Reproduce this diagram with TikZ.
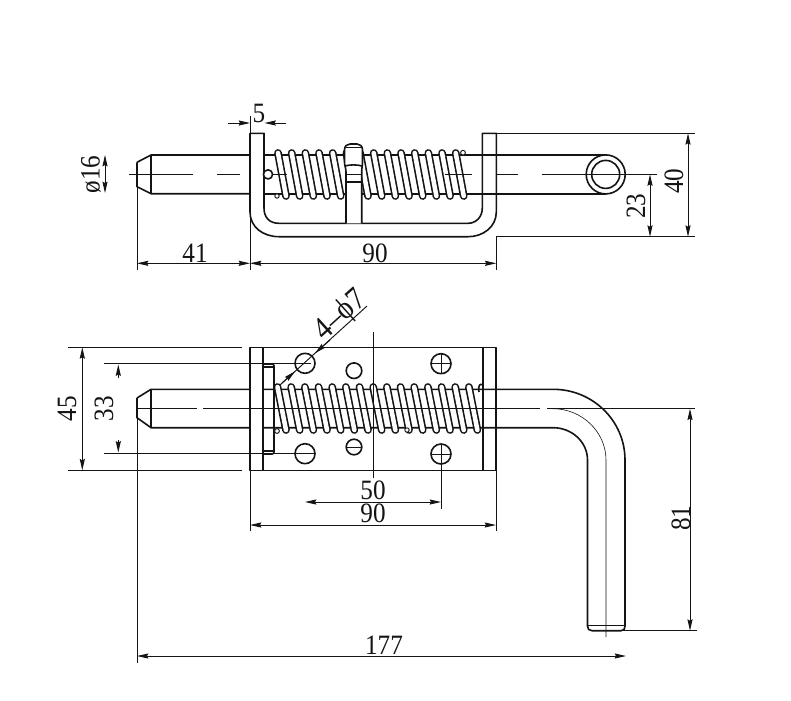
\documentclass[tikz,border=0pt]{standalone}
\usepackage{fontspec}
\setmainfont{Liberation Serif}
\newfontfamily\dimfont[FakeStretch=0.9]{Liberation Serif}
\usetikzlibrary{arrows.meta}
\definecolor{ink}{gray}{0.08}
\tikzset{
  x=0.75pt,y=-0.75pt,
  outl/.style={draw=ink,line width=1.2pt,line join=round},
  thinl/.style={draw=ink,line width=0.7pt},
  ah/.tip={Stealth[length=8.5pt,width=3.8pt,inset=1pt]},
  dim/.style={draw=ink,line width=0.7pt,ah-ah},
  tipend/.style={draw=ink,line width=0.7pt,-ah},
  lab/.style={inner sep=0pt,text=ink,font=\dimfont\fontsize{21}{21}\selectfont},
}
\newcommand{\coil}[4]{%
  \draw[ink,line width=5.8pt,line cap=round] (#1,#2) -- (#3,#4);
  \draw[white,line width=3.4pt,line cap=round] (#1,#2) -- (#3,#4);
}
\begin{document}
\begin{tikzpicture}
\useasboundingbox (0,0) rectangle (791,700);
\fill[white] (0,0) rectangle (791,700);

% ---------- top view
\draw[outl] (137,162.3) -- (151,155) -- (250,155);
\draw[outl] (137,162.3) -- (137,186.7) -- (151,193.7) -- (250,193.7);
\draw[outl] (151,155) -- (151,193.7);
\draw[outl] (264,155) -- (606,155);
\draw[outl] (264,193.7) -- (606,193.7);
\foreach \k in {0,...,13} {
  \pgfmathsetmacro{\xa}{278+13.67*\k}
  \pgfmathsetmacro{\xb}{\xa+8}
  \coil{\xa}{153}{\xb}{196}
}
\draw[thinl] (129,174.4) -- (193,174.4) (217,174.4) -- (240,174.4) (264,174.4) -- (287,174.4)
  (445,174.4) -- (472,174.4) (495,174.4) -- (518,174.4) (542,174.4) -- (586,174.4);
% bracket
\draw[outl,fill=white] (250,133.3) -- (264,133.3) -- (264,208)
  .. controls (264,217) and (269,223.3) .. (279,223.3) -- (468,223.3)
  .. controls (476,223.3) and (482.3,217) .. (482.3,208) -- (482.3,133.3) -- (496.3,133.3) -- (496.3,212)
  .. controls (496.3,227) and (483,236.7) .. (468,236.7) -- (279,236.7)
  .. controls (263,236.7) and (250,227) .. (250,212) -- cycle;
\draw[outl] (482.3,155) -- (496.3,155) (482.3,193.7) -- (496.3,193.7);
% handle nub
\draw[outl,fill=white] (346,223.3) -- (346,182) -- (346,172) .. controls (346,168) and (344.5,166) .. (344.5,162)
  -- (344.5,150) .. controls (344.5,146) and (347,144) .. (350,144)
  -- (357,144) .. controls (360,144) and (362.5,146) .. (362.5,150) -- (362.5,162)
  .. controls (362.5,166) and (361.7,168) .. (361.7,172) -- (361.7,223.3);
\draw[thinl] (346,147.5) -- (361.7,147.5);
\draw[outl] (345,166) .. controls (350,164.5) and (357,164.5) .. (362,166);
\draw[thinl] (346,174.4) -- (361.7,174.4);
\draw[outl] (346,182) -- (361.7,182);
\draw[outl,fill=white] (268,174.4) circle[radius=4.6];
\draw[thinl,fill=white] (277,196) circle[radius=2.2];
\draw[thinl,fill=white] (463,152.7) circle[radius=2.4];
% ring
\draw[outl,fill=white] (605.7,174.4) circle[radius=19.5];
\draw[outl,fill=white] (605.7,174.4) circle[radius=14];
\draw[thinl] (586,174.4) -- (657,174.4);

% top view dimensions
\coordinate (a5l) at (228,123); \coordinate (a5r) at (286,123);
\draw[thinl] (250,116) -- (250,270);
\draw[tipend] (a5l) -- (250,123);
\draw[tipend] (a5r) -- (264.5,123);
\node[lab] (n5) at (259,113) {5};
\draw[thinl] (137,175) -- (137,270);
\draw[thinl] (496.3,236.7) -- (496.3,270);
\draw[dim] (137,263.3) -- (250,263.3);
\draw[dim] (250,263.3) -- (496.3,263.3);
\node[lab] (n41) at (195,253) {41};
\node[lab] (n90a) at (375,253) {90};
\draw[thinl] (496.3,133.3) -- (695,133.3);
\draw[thinl] (496.3,236.7) -- (695,236.7);
\draw[dim] (688,133.3) -- (688,236.7);
\draw[dim] (650,174.4) -- (650,236.7);
\node[lab,rotate=90] (n40) at (674,181) {40};
\node[lab,rotate=90] (n23) at (636,206) {23};
\draw[dim] (105,155) -- (105,193);
\node[lab,rotate=90] (n16) at (91,174.4) {ø16};

% ---------- lower view
\draw[outl] (250,347.3) rectangle (496,470.3);
\draw[outl] (263,347.3) -- (263,470.3);
% pin
\draw[outl] (137,398) -- (151,389.3) -- (250,389.3);
\draw[outl] (137,398) -- (137,417.7) -- (151,427.7) -- (250,427.7);
\draw[outl] (151,389.3) -- (151,427.7);
\draw[outl] (263,389.3) -- (553,389.3) .. controls (593,389.3) and (625,421) .. (625,460) -- (625,626)
  .. controls (625,629) and (624,630.7) .. (621,630.7) -- (592,630.7) .. controls (589,630.7) and (587.5,629) .. (587.5,626)
  -- (587.5,460) .. controls (587.5,442) and (572,427.7) .. (553,427.7) -- (263,427.7);
\draw[thinl] (587.5,625) -- (625,625);
\draw[draw=ink,line width=0.45pt] (553,408.7) .. controls (582,408.7) and (606,432) .. (606,460) -- (606,637);
% washer
\draw[outl] (264,364) -- (272,364) .. controls (273.5,364) and (274,365) .. (274,366)
  -- (274,452) .. controls (274,453) and (273.5,454) .. (272,454) -- (264,454);
\draw[outl] (264,367) -- (274,367) (264,451) -- (274,451);
% holes
\draw[outl] (305,363.3) circle[radius=10] (305,453.7) circle[radius=10];
\draw[outl] (441,363.7) circle[radius=10] (441,454) circle[radius=10];
\draw[outl] (354,370.7) circle[radius=7.8] (354,447) circle[radius=7.8];
\draw[thinl] (431,363.7) -- (451,363.7) (441,353.7) -- (441,373.7);
\draw[thinl] (431,454) -- (451,454) (441,444) -- (441,509);
\draw[thinl] (346,447) -- (362,447);
% spring
\foreach \k in {0,...,14} {
  \pgfmathsetmacro{\xa}{277.5+13.67*\k}
  \pgfmathsetmacro{\xb}{\xa+8.5}
  \coil{\xa}{387}{\xb}{430}
}
\draw[thinl,fill=white] (277,431) circle[radius=2.4];
\draw[thinl,fill=white] (407,430) circle[radius=2.2];
\draw[outl] (482.7,347.3) -- (482.7,470.3);
\draw[outl] (482.7,385) .. controls (480,383) and (478,385) .. (479,392);
% centre lines
\draw[draw=ink,line width=0.95pt] (137,408.7) -- (197,408.7) (203,408.7) -- (540,408.7) (547,408.7) -- (695,408.7);
\draw[thinl] (373,332) -- (373,478);

% lower view dimensions
\draw[thinl] (68,347.3) -- (242,347.3);
\draw[thinl] (68,470.3) -- (242,470.3);
\draw[thinl] (104,363.3) -- (311,363.3);
\draw[thinl] (104,453.7) -- (315,453.7);
\draw[dim] (82.3,347.3) -- (82.3,470.3);
\draw[tipend] (118.3,378) -- (118.3,364.5);
\draw[tipend] (118.3,440) -- (118.3,452.5);
\node[lab,rotate=90] (n45) at (67,408.7) {45};
\node[lab,rotate=90] (n33) at (104,408.7) {33};
\draw[thinl] (137,418) -- (137,663);
\draw[thinl] (250,470.3) -- (250,531);
\draw[thinl] (496,470.3) -- (496,531);
\draw[dim] (305,502) -- (441,502);
\node[lab] (n50) at (373,490) {50};
\draw[dim] (250,525) -- (496,525);
\node[lab] (n90b) at (373,513) {90};
\draw[dim] (137,656) -- (626,656);
\node[lab] (n177) at (384,645) {177};
\draw[thinl] (620,630.7) -- (697,630.7);
\draw[dim] (690,408.7) -- (690,630.7);
\node[lab,rotate=90] (n81) at (681,518) {81};
% leader
\coordinate (ldA) at (280,385); \coordinate (ldB) at (367,306);
\coordinate (ldC) at (295,371.4); \coordinate (ldD) at (315,353.2);
\draw[thinl] (ldA) -- (ldB);
\draw[tipend] (282,383) -- (ldC);
\draw[tipend] (330,340) -- (ldD);
\node[lab,rotate=42,font=\dimfont\fontsize{24}{24}\selectfont] (n47) at (341,316) {4–ϕ7};
\end{tikzpicture}
\end{document}
